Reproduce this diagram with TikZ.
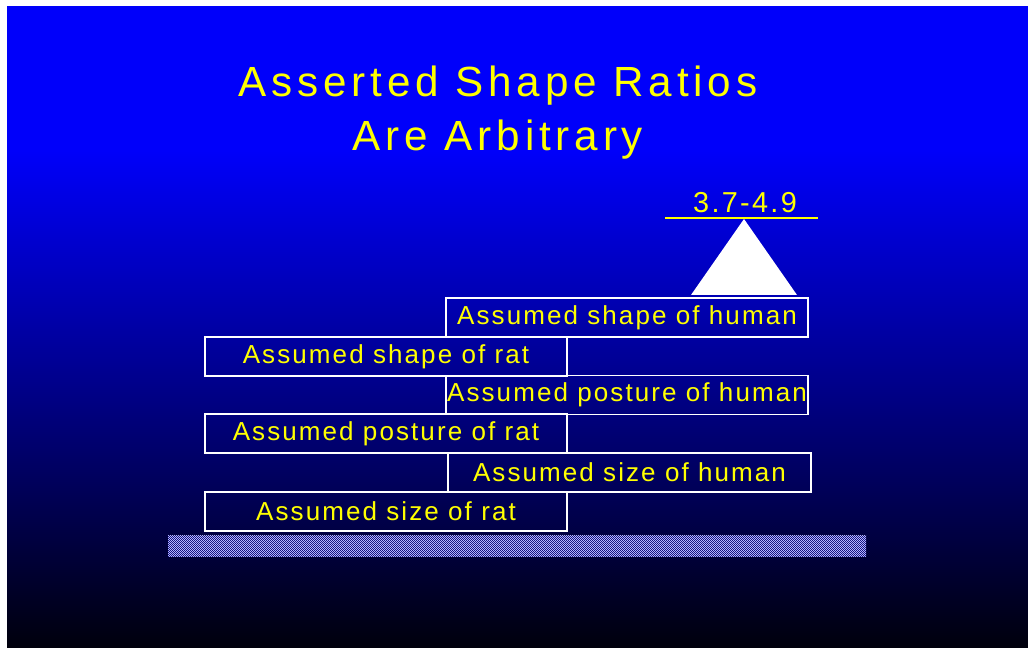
\documentclass[tikz,border=0pt]{standalone}
\usepackage{fontspec}
\setmainfont{Liberation Sans}
\newfontfamily\headfont[LetterSpace=11.5]{Liberation Sans}
\newfontfamily\boxfont[LetterSpace=8]{Liberation Sans}
\usetikzlibrary{patterns.meta}
\definecolor{slideblue}{RGB}{0,0,250}
\definecolor{slidedark}{RGB}{0,0,12}
\definecolor{slideyellow}{RGB}{255,255,0}
\definecolor{dotblue}{RGB}{180,180,255}
\definecolor{barblue}{RGB}{0,0,110}
\tikzdeclarepattern{
	name=finecheck,
	type=uncolored,
	bottom left={(0pt,0pt)},
	top right={(1.42pt,1.42pt)},
	tile size={(1.42pt,1.42pt)},
	code={
		\fill (0pt,0pt) rectangle (0.71pt,0.71pt);
		\fill (0.71pt,0.71pt) rectangle (1.42pt,1.42pt);
	}
}

\begin{document}
\begin{tikzpicture}[x=0.025cm,y=-0.025cm,
	assumed/.style={draw=white,line width=1.4pt,minimum width=9.05cm,minimum height=0.975cm,inner sep=0pt,text=slideyellow,font=\boxfont\fontsize{18.5}{20}\selectfont}]
	\useasboundingbox (0,0) rectangle (1028,648);
	\fill[white] (0,0) rectangle (1028,648);
	\fill[slideblue] (7,6) rectangle (1028,150);
	\shade[top color=slideblue,bottom color=slidedark] (7,150) rectangle (1028,648);
	% title
	\node[anchor=base,align=center,text=slideyellow,font=\headfont\fontsize{30}{38.4}\selectfont] (title) at (498,151) {Asserted Shape Ratios\\Are Arbitrary};
	% the scale
	\node[assumed] (shapehuman) at (627,317.5) {Assumed shape of human};
	\node[assumed] (shaperat) at (386,356.5) {Assumed shape of rat};
	\node[assumed] (posturehuman) at (627,395) {Assumed posture of human};
	\node[assumed] (posturerat) at (386,433.5) {Assumed posture of rat};
	\node[assumed] (sizehuman) at (629.5,472.5) {Assumed size of human};
	\node[assumed] (sizerat) at (386,511.5) {Assumed size of rat};
	\fill[barblue] (168,536) rectangle (866,557);
	\fill[pattern=finecheck,pattern color=dotblue] (168,536) rectangle (866,557);
	% fulcrum and ratio
	\coordinate (tip) at (744,219);
	\fill[white] (tip) -- (797,295) -- (691,295) -- cycle;
	\coordinate (beamleft) at (665,218);
	\coordinate (beamright) at (818,218);
	\draw[slideyellow,line width=1.4pt] (beamleft) -- (beamright);
	\node[anchor=base,text=slideyellow,font=\boxfont\fontsize{20.5}{22}\selectfont] (ratio) at (745,213) {3.7-4.9};
\end{tikzpicture}
\end{document}
